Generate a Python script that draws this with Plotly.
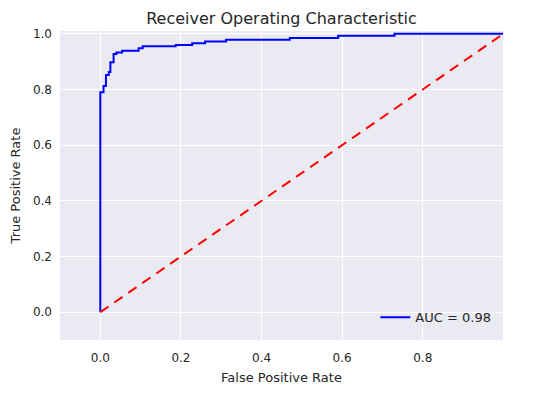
import plotly.graph_objects as go

fpr = [0.0, 0.0, 0.008, 0.008, 0.014, 0.014, 0.021, 0.021, 0.025, 0.025,
       0.033, 0.033, 0.040, 0.040, 0.054, 0.054, 0.095, 0.095, 0.105, 0.105,
       0.187, 0.187, 0.228, 0.228, 0.260, 0.260, 0.312, 0.312, 0.470, 0.470,
       0.590, 0.590, 0.730, 0.730, 1.0]
tpr = [0.0, 0.790, 0.790, 0.812, 0.812, 0.852, 0.852, 0.863, 0.863, 0.898,
       0.898, 0.927, 0.927, 0.933, 0.933, 0.939, 0.939, 0.948, 0.948, 0.955,
       0.955, 0.960, 0.960, 0.966, 0.966, 0.972, 0.972, 0.979, 0.979, 0.985,
       0.985, 0.993, 0.993, 1.0, 1.0]
diag_x = [0, 1]
diag_y = [0, 1]
auc_label = "AUC = 0.98"
xticks = [0.0, 0.2, 0.4, 0.6, 0.8]
yticks = [0.0, 0.2, 0.4, 0.6, 0.8, 1.0]

font = "DejaVu Sans"
txt = "#262626"

fig = go.Figure()
fig.add_trace(go.Scatter(x=fpr, y=tpr, mode="lines", name=auc_label,
                         line=dict(color="blue", width=2)))
fig.add_trace(go.Scatter(x=diag_x, y=diag_y, mode="lines", showlegend=False,
                         line=dict(color="red", width=2, dash="10px,7px")))

# page body has an 8px offset; size the figure so the plot area lands where the reference has it
fig.update_layout(
    width=540, height=387,
    margin=dict(l=52, r=45, t=23, b=55),
    paper_bgcolor="white", plot_bgcolor="#EAEAF2",
    font=dict(family=font, color=txt, size=12),
    title=dict(text="Receiver Operating Characteristic", x=0.5, xref="paper",
               y=0.974, yref="container", xanchor="center", yanchor="middle",
               font=dict(size=16, color=txt)),
    showlegend=True,
    legend=dict(x=0.985, y=0.025, xanchor="right", yanchor="bottom",
                bgcolor="rgba(0,0,0,0)", font=dict(size=13, color=txt),
                itemwidth=30),
    xaxis=dict(range=[-0.1, 0.999], tickvals=xticks, ticktext=[f"{v:.1f}" for v in xticks],
               showgrid=True, gridcolor="white", gridwidth=1, zeroline=False,
               showline=False, ticks="", ticklabelstandoff=9, automargin=False,
               title=dict(text="False Positive Rate", font=dict(size=13), standoff=8)),
    yaxis=dict(range=[-0.1, 1.01], tickvals=yticks, ticktext=[f"{v:.1f}" for v in yticks],
               showgrid=True, gridcolor="white", gridwidth=1, zeroline=False,
               showline=False, ticks="", ticklabelstandoff=7, automargin=False,
               title=dict(text="True Positive Rate", font=dict(size=13), standoff=10)),
)

fig.write_html("out.html")
